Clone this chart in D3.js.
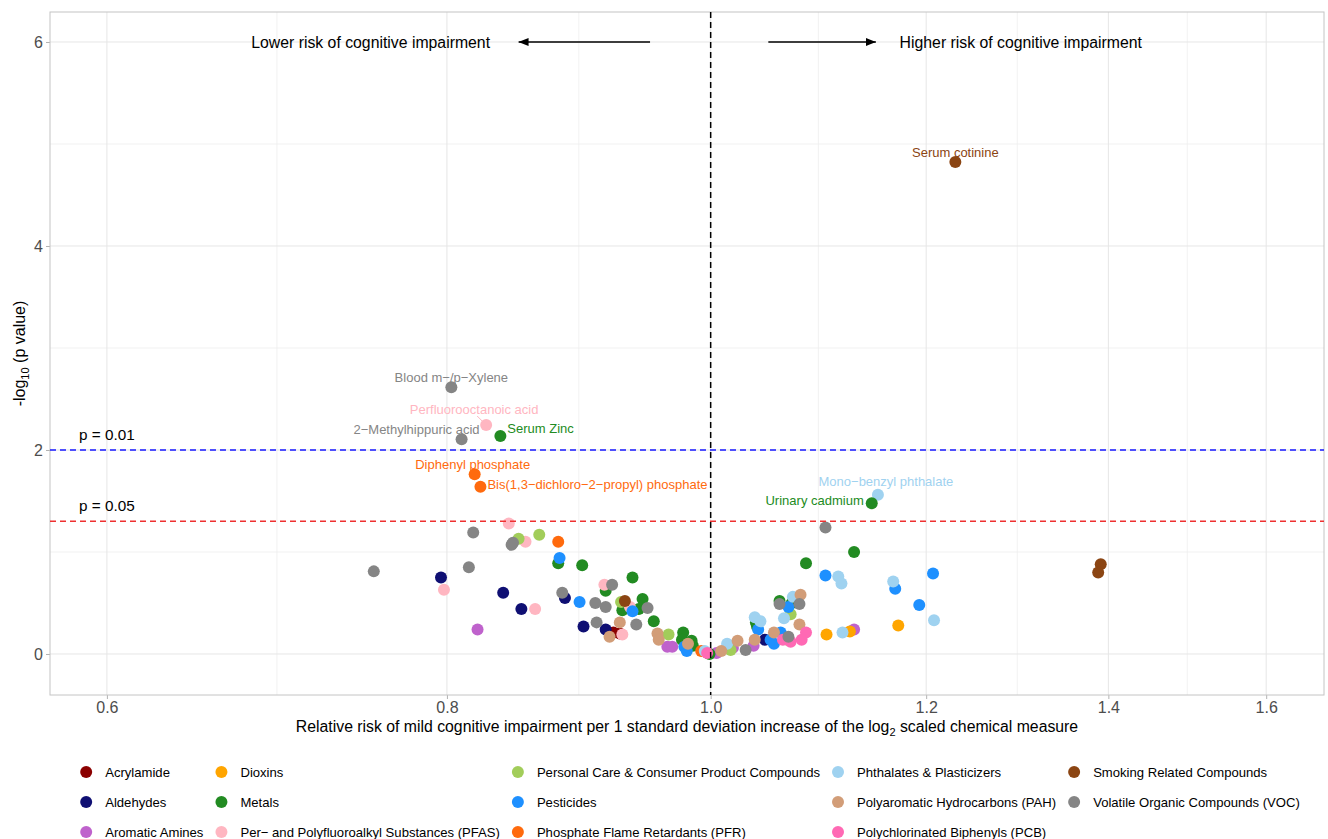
<!DOCTYPE html>
<html>
<head>
<meta charset="utf-8">
<script src="https://cdn.jsdelivr.net/npm/d3@7"></script>
<style>
  body { margin: 0; background: #fff; }
  svg { font-family: "Liberation Sans", Arial, Helvetica, sans-serif; }
</style>
</head>
<body>
<div id="chart"></div>
<script>
// legend order (alphabetical, column-major in 3 rows)
const categories = [
  "Acrylamide",
  "Aldehydes",
  "Aromatic Amines",
  "Dioxins",
  "Metals",
  "Per\u2212 and Polyfluoroalkyl Substances (PFAS)",
  "Personal Care & Consumer Product Compounds",
  "Pesticides",
  "Phosphate Flame Retardants (PFR)",
  "Phthalates & Plasticizers",
  "Polyaromatic Hydrocarbons (PAH)",
  "Polychlorinated Biphenyls (PCB)",
  "Smoking Related Compounds",
  "Volatile Organic Compounds (VOC)",
];
const categoryColors = [
  "#8b0000", "#0f0f73", "#bf62cc", "#ffa500", "#228b22", "#ffb6c1", "#a2cd5a",
  "#1e90ff", "#ff6a0d", "#9fd2f0", "#d29d78", "#ff69b4", "#8b4513", "#858585",
];

// [relative risk, -log10 p]
const acrylamide = [[0.921, 0.21], [0.926, 0.20]];
const aldehydes = [[0.796, 0.75], [0.839, 0.60], [0.852, 0.44], [0.884, 0.55], [0.898, 0.27], [0.915, 0.24], [1.047, 0.14]];
const aromaticAmines = [[0.821, 0.24], [0.964, 0.07], [0.968, 0.07], [1.005, 0.01], [1.019, 0.06], [1.037, 0.08], [1.129, 0.24]];
const dioxins = [[1.103, 0.19], [1.125, 0.22], [1.172, 0.28]];
const metals = [[0.879, 0.89], [0.897, 0.87], [0.915, 0.62], [0.936, 0.75], [0.928, 0.43], [0.941, 0.44], [0.944, 0.54],
  [0.953, 0.32], [0.977, 0.21], [0.976, 0.14], [0.984, 0.13], [0.985, 0.08], [0.999, 0.00], [1.039, 0.31], [1.040, 0.27],
  [1.060, 0.52], [1.071, 0.50], [1.084, 0.89], [1.129, 1.00]];
const pfas = [[0.843, 1.28], [0.855, 1.10], [0.798, 0.63], [0.862, 0.44], [0.914, 0.68], [0.928, 0.19], [0.934, 0.46]];
const personalCare = [[0.850, 1.13], [0.865, 1.17], [0.927, 0.51], [0.965, 0.19], [1.017, 0.04], [1.067, 0.14], [1.070, 0.39]];
const pesticides = [[0.880, 0.94], [0.895, 0.51], [0.936, 0.42], [0.980, 0.03], [0.978, 0.07], [1.041, 0.24], [1.055, 0.10],
  [1.052, 0.14], [1.061, 0.21], [1.068, 0.46], [1.102, 0.77], [1.169, 0.64], [1.193, 0.48], [1.207, 0.79]];
const pfr = [[0.879, 1.10], [0.992, 0.03]];
const phthalates = [[1.114, 0.76], [1.117, 0.69], [1.167, 0.71], [1.208, 0.33], [1.118, 0.21], [1.072, 0.56], [1.064, 0.35],
  [1.038, 0.36], [1.043, 0.32], [1.014, 0.10], [0.995, 0.03]];
const pah = [[0.926, 0.31], [0.918, 0.17], [0.956, 0.20], [0.957, 0.14], [0.981, 0.10], [1.009, 0.03], [1.023, 0.13],
  [1.038, 0.14], [1.055, 0.21], [1.078, 0.29], [1.079, 0.58]];
const pcb = [[1.063, 0.14], [1.070, 0.12], [1.084, 0.21], [1.080, 0.14], [0.997, 0.01]];
const smoking = [[1.391, 0.88], [1.388, 0.80], [0.930, 0.52]];
const voc = [[0.752, 0.81], [0.815, 0.85], [0.818, 1.19], [0.846, 1.09], [0.845, 1.07], [0.882, 0.60], [0.907, 0.50],
  [0.915, 0.46], [0.908, 0.31], [0.920, 0.68], [0.939, 0.29], [0.948, 0.45], [1.030, 0.04], [1.060, 0.49], [1.078, 0.49],
  [1.068, 0.17], [1.102, 1.24]];

const pointsByCategory = [acrylamide, aldehydes, aromaticAmines, dioxins, metals, pfas, personalCare,
  pesticides, pfr, phthalates, pah, pcb, smoking, voc];

// labelled chemicals: [category index, relative risk, -log10 p, name]
const namedPoints = [
  [13, 0.803, 2.615, "Blood m\u2212/p\u2212Xylene"],
  [13, 0.810, 2.105, "2\u2212Methylhippuric acid"],
  [5, 0.827, 2.245, "Perfluorooctanoic acid"],
  [4, 0.837, 2.137, "Serum Zinc"],
  [8, 0.819, 1.762, "Diphenyl phosphate"],
  [8, 0.823, 1.640, "Bis(1,3\u2212dichloro\u22122\u2212propyl) phosphate"],
  [9, 1.152, 1.562, "Mono\u2212benzyl phthalate"],
  [4, 1.146, 1.477, "Urinary cadmium"],
  [12, 1.230, 4.824, "Serum cotinine"],
];

const xTicks = [0.6, 0.8, 1.0, 1.2, 1.4, 1.6];
const yTicks = [0, 2, 4, 6];
const pThresholds = [0.01, 0.05];

// ---- layout ----
const W = 1328, H = 839;
const x = d3.scaleLog().domain([0.5718, 1.6802]).range([50, 1324]);
const y = d3.scaleLinear().domain([-0.402, 6.294]).range([695, 12]);
const [x0, x1] = x.range();
const [y1, y0] = y.range();

const svg = d3.select("#chart").append("svg").attr("width", W).attr("height", H);

// grid (minor lines at midpoints of the transformed scale, like ggplot)
const xMinor = d3.pairs(xTicks).map(([a, b]) => Math.sqrt(a * b));
const yMinor = d3.pairs(yTicks).map(([a, b]) => (a + b) / 2);
const grid = svg.append("g");
grid.selectAll(".xm").data(xMinor).join("line")
  .attr("x1", d => x(d)).attr("x2", d => x(d)).attr("y1", y0).attr("y2", y1)
  .attr("stroke", "#efefef").attr("stroke-width", 0.8);
grid.selectAll(".ym").data(yMinor).join("line")
  .attr("x1", x0).attr("x2", x1).attr("y1", d => y(d)).attr("y2", d => y(d))
  .attr("stroke", "#efefef").attr("stroke-width", 0.8);
grid.selectAll(".xM").data(xTicks).join("line")
  .attr("x1", d => x(d)).attr("x2", d => x(d)).attr("y1", y0).attr("y2", y1)
  .attr("stroke", "#e6e6e6").attr("stroke-width", 1);
grid.selectAll(".yM").data(yTicks).join("line")
  .attr("x1", x0).attr("x2", x1).attr("y1", d => y(d)).attr("y2", d => y(d))
  .attr("stroke", "#e6e6e6").attr("stroke-width", 1);

// axes
const xAxis = svg.append("g").attr("transform", `translate(0,${y1})`)
  .call(d3.axisBottom(x).tickValues(xTicks).tickFormat(d3.format(".1f")).tickSizeOuter(0).tickSize(4).tickPadding(3));
const yAxis = svg.append("g").attr("transform", `translate(${x0},0)`)
  .call(d3.axisLeft(y).tickValues(yTicks).tickFormat(d3.format("d")).tickSizeOuter(0).tickSize(4).tickPadding(3));
[xAxis, yAxis].forEach(a => {
  a.select(".domain").remove();
  a.selectAll(".tick line").attr("stroke", "#b3b3b3");
  a.selectAll(".tick text").attr("fill", "#4d4d4d").attr("font-size", 16)
    .attr("font-family", "Liberation Sans, Arial, sans-serif");
});

// panel border
svg.append("rect").attr("x", x0).attr("y", y0).attr("width", x1 - x0).attr("height", y1 - y0)
  .attr("fill", "none").attr("stroke", "#c4c4c4").attr("stroke-width", 1);

// points
const flat = [];
pointsByCategory.forEach((pts, i) => pts.forEach(([rr, lp]) => flat.push({ cat: i, rr, lp })));
namedPoints.forEach(([cat, rr, lp, name]) => flat.push({ cat, rr, lp, name }));

svg.append("g").selectAll("circle").data(flat).join("circle")
  .attr("cx", d => x(d.rr)).attr("cy", d => y(d.lp)).attr("r", 6)
  .attr("fill", d => categoryColors[d.cat]);

// threshold lines
const thrColors = ["#1a1aff", "#ee3030"];
pThresholds.forEach((p, i) => {
  const v = -Math.log10(p);
  svg.append("line").attr("x1", x0).attr("x2", x1).attr("y1", y(v)).attr("y2", y(v))
    .attr("stroke", thrColors[i]).attr("stroke-width", 1.5).attr("stroke-dasharray", "6,4");
  svg.append("text").attr("x", x(0.6)).attr("y", y(v + 0.15)).attr("dy", "0.35em")
    .attr("text-anchor", "middle").attr("font-size", 15.3).attr("fill", "#000")
    .text(`p = ${p}`);
});
svg.append("line").attr("x1", x(1)).attr("x2", x(1)).attr("y1", y0).attr("y2", y1)
  .attr("stroke", "#000").attr("stroke-width", 1.5).attr("stroke-dasharray", "6,4");

// point labels (repel-style offsets, px)
const labelPlacement = {
  "Serum cotinine": [0, -5, "middle"],
  "Blood m\u2212/p\u2212Xylene": [0, -5, "middle"],
  "Perfluorooctanoic acid": [-12, -11, "middle"],
  "2\u2212Methylhippuric acid": [18, -5, "end"],
  "Serum Zinc": [7, -3, "start"],
  "Diphenyl phosphate": [-2, -5.5, "middle"],
  "Bis(1,3\u2212dichloro\u22122\u2212propyl) phosphate": [7, 2, "start"],
  "Mono\u2212benzyl phthalate": [8, -9, "middle"],
  "Urinary cadmium": [-8, 1.5, "end"],
};
const labels = svg.append("g");
namedPoints.forEach(([cat, rr, lp, name]) => {
  const [dx, dy, anchor] = labelPlacement[name];
  const px = x(rr), py = y(lp);
  if (name === "Perfluorooctanoic acid") {
    labels.append("line").attr("x1", px - 4).attr("y1", py - 4).attr("x2", px - 9).attr("y2", py - 9)
      .attr("stroke", categoryColors[cat]).attr("stroke-width", 1);
  }
  labels.append("text").attr("x", px + dx).attr("y", py + dy)
    .attr("text-anchor", anchor).attr("font-size", 13).attr("fill", categoryColors[cat])
    .text(name);
});

// direction arrows
svg.append("defs").append("marker").attr("id", "head")
  .attr("viewBox", "0 0 10 10").attr("refX", 10).attr("refY", 5)
  .attr("markerWidth", 10).attr("markerHeight", 10).attr("markerUnits", "userSpaceOnUse")
  .attr("orient", "auto")
  .append("path").attr("d", "M0,1 L10,5 L0,9 Z").attr("fill", "#000");
[[0.95, 0.85], [1.05, 1.15]].forEach(([a, b]) => {
  svg.append("line").attr("x1", x(a)).attr("x2", x(b)).attr("y1", y(6)).attr("y2", y(6))
    .attr("stroke", "#000").attr("stroke-width", 1.5).attr("marker-end", "url(#head)");
});
svg.append("text").attr("x", x(0.75)).attr("y", y(6)).attr("dy", "0.35em").attr("text-anchor", "middle")
  .attr("font-size", 15.8).text("Lower risk of cognitive impairment");
svg.append("text").attr("x", x(1.3)).attr("y", y(6)).attr("dy", "0.35em").attr("text-anchor", "middle")
  .attr("font-size", 15.8).text("Higher risk of cognitive impairment");

// axis titles
const xt = svg.append("text").attr("x", (x0 + x1) / 2).attr("y", 732).attr("text-anchor", "middle")
  .attr("font-size", 15.8).attr("fill", "#000");
xt.append("tspan").text("Relative risk of mild cognitive impairment per 1 standard deviation increase of the log");
xt.append("tspan").attr("dy", 4).attr("font-size", 11).text("2");
xt.append("tspan").attr("dy", -4).text(" scaled chemical measure");

const yt = svg.append("text").attr("transform", `translate(25,${(y0 + y1) / 2}) rotate(-90)`)
  .attr("text-anchor", "middle").attr("font-size", 16).attr("fill", "#000");
yt.append("tspan").text("-log");
yt.append("tspan").attr("dy", 4).attr("font-size", 11).text("10");
yt.append("tspan").attr("dy", -4).text(" (p value)");

// legend: 3 rows, filled column by column
const rowsY = [772, 802, 832];
const legend = svg.append("g");
const items = legend.selectAll("g").data(categories).join("g");
items.append("circle").attr("r", 6).attr("fill", (d, i) => categoryColors[i]);
items.append("text").attr("x", 19).attr("dy", "0.35em").attr("font-size", 13.1).attr("fill", "#000").text(d => d);

const widths = [];
items.select("text").each(function (d, i) {
  const c = Math.floor(i / 3);
  widths[c] = Math.max(widths[c] || 0, this.getComputedTextLength());
});
const colX = [0];
for (let c = 1; c < widths.length; c++) colX[c] = colX[c - 1] + 19 + widths[c - 1] + 18;
const totalW = colX[colX.length - 1] + 19 + widths[widths.length - 1] + 6;
const startX = (x0 + x1) / 2 - totalW / 2 + 9;
items.attr("transform", (d, i) => `translate(${startX + colX[Math.floor(i / 3)]},${rowsY[i % 3]})`);
</script>
</body>
</html>
